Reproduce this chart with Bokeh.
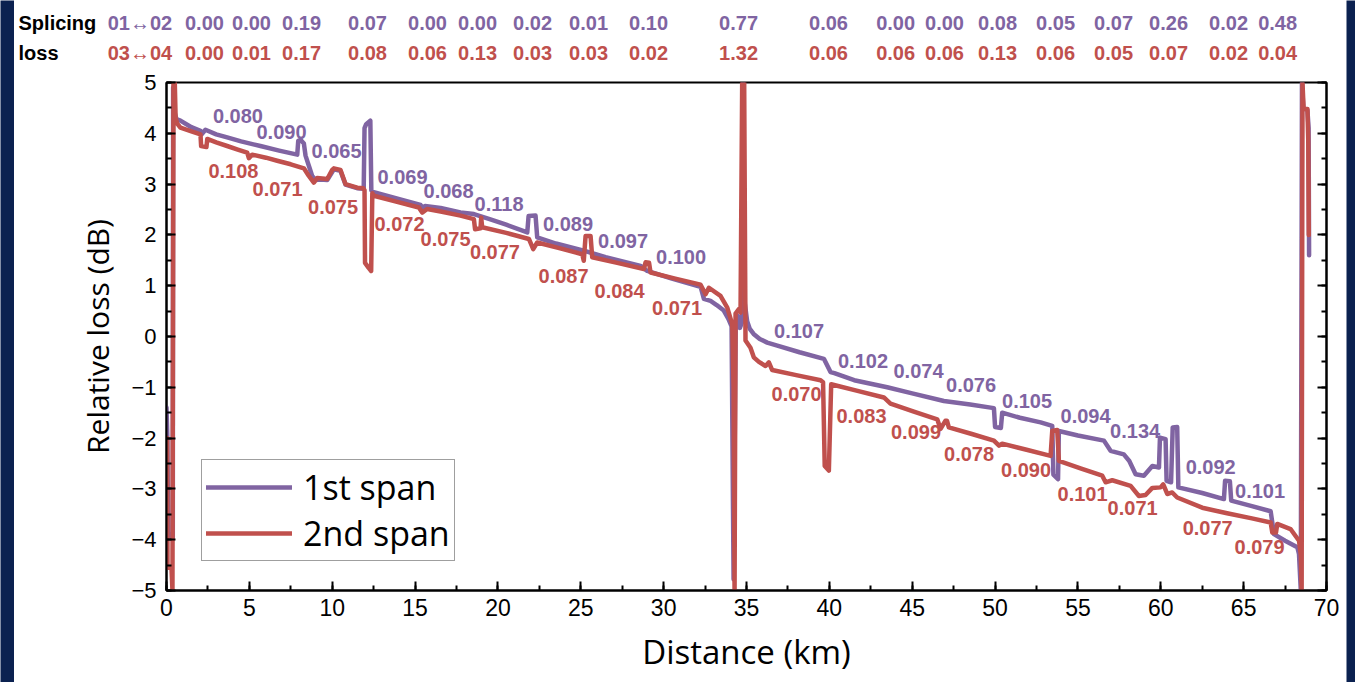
from bokeh.plotting import figure
from bokeh.layouts import column, row
from bokeh.models import (LinearAxis, SingleIntervalTicker, Legend, LegendItem,
                          Range1d, CustomJSTickFormatter)
from bokeh.core.properties import value
from bokeh.embed import file_html
from bokeh.resources import INLINE

# ---------------- data ----------------
span1_km = [0.0, 0.05, 0.1, 0.3, 0.38, 0.4, 0.5, 0.6, 0.84, 1.5, 2.05, 2.12, 2.35, 3.0, 3.66,
            4.5, 5.67, 6.8, 7.89, 7.95, 8.1, 8.29, 8.39, 8.6, 8.79, 9.0, 9.3, 9.7, 10.1, 10.5,
            10.8, 11.5, 11.9, 11.95, 12.05, 12.3, 12.36, 12.51, 14.0, 15.33, 15.45, 15.6, 16.54,
            17.74, 18.55, 19.5, 20.5, 21.77, 21.85, 22.27, 22.37, 23.5, 25.18, 26.5, 28.61, 29.01,
            30.5, 32.23, 32.43, 32.83, 33.2, 33.63, 33.9, 34.1, 34.22, 34.35, 34.5, 34.6, 34.75,
            34.79, 34.83, 34.9, 35.04, 35.2, 35.43, 35.8, 36.25, 36.86, 38.2, 39.67, 40.07, 40.3,
            41.5, 43.49, 45.0, 46.91, 48.5, 49.93, 50.0, 50.35, 50.43, 51.5, 52.75, 53.45, 53.52,
            53.8, 53.85, 55.0, 56.57, 56.97, 57.77, 58.1, 58.48, 58.98, 59.49, 59.89, 59.95, 60.29,
            60.35, 60.62, 60.72, 60.99, 61.06, 62.5, 63.81, 63.88, 64.17, 64.25, 65.5, 66.63,
            66.83, 67.5, 68.24, 68.34, 68.45, 68.52, 68.6, 68.85, 68.92, 68.95]
span1_db = [-1.4, -2.0, -3.85, -3.95, -3.95, 4.9, 4.4, 4.28, 4.25, 4.12, 4.05, 3.98, 4.07, 3.98, 3.92,
            3.84, 3.75, 3.66, 3.58, 3.85, 3.87, 3.80, 3.56, 3.35, 3.16, 3.08, 3.09, 3.08, 3.29, 3.26,
            2.99, 2.92, 2.91, 4.10, 4.18, 4.25, 2.88, 2.84, 2.71, 2.59, 2.53, 2.57, 2.53,
            2.44, 2.41, 2.31, 2.20, 2.05, 2.37, 2.38, 1.95, 1.83, 1.69, 1.56, 1.39, 1.29,
            1.14, 0.98, 0.74, 0.70, 0.62, 0.51, 0.35, 0.20, -4.78, 0.30, 0.40, 0.17, 0.3,
            5.0, 1.2, 0.65, 0.30, 0.15, 0.05, -0.05, -0.12, -0.18, -0.31, -0.44, -0.70, -0.72,
            -0.86, -1.00, -1.12, -1.27, -1.34, -1.41, -1.78, -1.80, -1.50, -1.60, -1.69, -1.76, -2.72,
            -2.81, -1.86, -1.95, -2.05, -2.25, -2.32, -2.45, -2.71, -2.74, -2.55, -2.58, -1.99, -2.02,
            -2.84, -2.87, -1.79, -1.78, -2.97, -3.08, -3.20, -2.84, -2.85, -3.23, -3.34, -3.44,
            -3.89, -4.02, -4.15, -4.28, -5.0, 5.0, 4.5, 4.45, 4.1, 1.6]

span2_km = [0.04, 0.06, 0.3, 0.36, 0.42, 0.5, 0.55, 0.65, 0.84, 1.5, 2.05, 2.09, 2.41, 2.46, 3.0,
            3.66, 4.3, 4.87, 4.97, 5.17, 6.0, 6.68, 7.5, 8.29, 8.59, 8.89, 9.09, 9.7, 10.0, 10.1,
            10.5, 10.8, 11.51, 11.87, 11.95, 11.98, 12.2, 12.35, 12.42, 12.51, 13.8, 15.23, 15.43,
            15.73, 16.54, 17.74, 18.55, 18.62, 18.95, 18.99, 19.05, 20.5, 21.87, 22.13, 22.37,
            23.7, 25.09, 25.18, 25.29, 25.59, 25.69, 27.2, 28.81, 28.91, 29.12, 29.21, 30.7,
            32.23, 32.53, 32.73, 33.43, 33.84, 34.14, 34.22, 34.28, 34.34, 34.54, 34.64, 34.74,
            34.86, 34.94, 35.24, 35.44, 35.75, 36.15, 36.35, 36.55, 38.0, 39.47, 39.62, 39.72,
            39.97, 40.11, 41.7, 43.29, 43.69, 45.1, 46.51, 46.71, 47.0, 47.1, 47.21, 48.6, 49.93,
            50.24, 50.43, 51.9, 53.35, 53.45, 53.75, 53.85, 55.2, 56.47, 56.67, 57.07, 58.18,
            58.68, 59.08, 59.49, 59.99, 60.15, 60.39, 60.69, 60.99, 62.5, 64.0, 65.5, 66.63,
            66.73, 66.95, 67.03, 67.83, 68.34, 68.45, 68.5, 68.55, 68.62, 68.85, 68.9, 68.93]
span2_db = [-2.0, -4.55, -4.55, -5.0, 5.0, 5.0, 4.3, 4.19, 4.11, 4.04, 3.98, 3.75, 3.73, 3.89, 3.82,
            3.75, 3.68, 3.62, 3.51, 3.58, 3.52, 3.46, 3.39, 3.31, 3.16, 3.03, 3.12, 3.10, 3.28, 3.31,
            3.28, 3.00, 2.93, 2.92, 2.88, 1.45, 1.35, 1.29, 2.82, 2.77, 2.66, 2.54, 2.44,
            2.51, 2.46, 2.38, 2.31, 2.11, 2.13, 2.34, 2.15, 2.04, 1.92, 1.72, 1.85,
            1.74, 1.62, 1.49, 1.98, 1.98, 1.56, 1.45, 1.33, 1.46, 1.45, 1.26, 1.14,
            1.02, 0.83, 0.96, 0.80, 0.57, 0.24, -1.0, -5.0, 0.45, 0.54, 0.47, 5.0,
            5.0, -0.08, -0.22, -0.41, -0.50, -0.58, -0.51, -0.66, -0.76, -0.86, -0.90, -2.55,
            -2.64, -0.94, -1.07, -1.20, -1.32, -1.48, -1.63, -1.82, -1.66, -1.66, -1.79, -1.92, -2.05,
            -2.15, -2.11, -2.23, -2.35, -1.86, -1.84, -2.45, -2.60, -2.74, -2.87, -2.83, -2.94,
            -3.14, -3.12, -2.98, -2.97, -2.91, -3.10, -3.07, -3.17, -3.37, -3.48, -3.58, -3.66,
            -3.86, -3.86, -3.69, -3.79, -4.02, -4.30, -5.0, 5.0, 4.48, 4.48, 3.85, 2.0]

s1_lab_km = [4.31, 6.94, 10.26, 14.24, 17.02, 20.07, 24.23, 27.55, 31.05, 38.17, 42.03, 45.38,
             48.55, 51.93, 55.46, 58.45, 63.01, 65.99]
s1_lab_db = [4.34, 4.02, 3.66, 3.13, 2.87, 2.60, 2.21, 1.88, 1.56, 0.10, -0.48, -0.68,
             -0.96, -1.26, -1.56, -1.86, -2.57, -3.04]
s1_lab_txt = ["0.080", "0.090", "0.065", "0.069", "0.068", "0.118", "0.089", "0.097", "0.100",
              "0.107", "0.102", "0.074", "0.076", "0.105", "0.094", "0.134", "0.092", "0.101"]

s2_lab_km = [4.04, 6.70, 10.05, 14.06, 16.84, 19.82, 23.96, 27.34, 30.81, 38.02, 41.94, 45.23,
             48.43, 51.87, 55.28, 58.30, 62.83, 65.96]
s2_lab_db = [3.25, 2.91, 2.55, 2.21, 1.91, 1.66, 1.19, 0.90, 0.57, -1.14, -1.56, -1.88,
             -2.32, -2.63, -3.10, -3.37, -3.76, -4.14]
s2_lab_txt = ["0.108", "0.071", "0.075", "0.072", "0.075", "0.077", "0.087", "0.084", "0.071",
              "0.070", "0.083", "0.099", "0.078", "0.090", "0.101", "0.071", "0.077", "0.079"]

hdr_km = [2.29, 5.13, 8.15, 12.13, 15.75, 18.77, 22.09, 25.47, 29.09, 34.52, 39.95, 44.00,
          46.95, 50.15, 53.65, 57.15, 60.47, 64.09, 67.05]
hdr_row1 = ["0.00", "0.00", "0.19", "0.07", "0.00", "0.00", "0.02", "0.01", "0.10", "0.77",
            "0.06", "0.00", "0.00", "0.08", "0.05", "0.07", "0.26", "0.02", "0.48"]
hdr_row2 = ["0.00", "0.01", "0.17", "0.08", "0.06", "0.13", "0.03", "0.03", "0.02", "1.32",
            "0.06", "0.06", "0.06", "0.13", "0.06", "0.05", "0.07", "0.02", "0.04"]
hdr_pair_km = -1.60
hdr_pair1 = "01\u219402"
hdr_pair2 = "03\u219404"
hdr_title_km = -8.93
hdr_title1 = "Splicing"
hdr_title2 = "loss"

# ---------------- layout / styling ----------------
PURPLE = "#8064A2"
RED = "#C0504D"
NAVY = "#0B2150"
SANS = "Liberation Sans"
UI = "Open Sans"

PAGE_H = 682
STRIP_L, STRIP_R = 14, 9
W = 1355 - STRIP_L - STRIP_R
BL, BR = 152, 20
FRAME_W = W - BL - BR
HDR_H = 70
TOP_GAP = 12
X0, X1 = 0, 70
PX_PER_KM = FRAME_W / (X1 - X0)
PX_PER_DB = 50.8


def strip(width):
    s = figure(width=width, height=PAGE_H, output_backend="svg", toolbar_location=None,
               x_axis_type=None, y_axis_type=None,
               min_border_left=0, min_border_right=0, min_border_top=0, min_border_bottom=0)
    s.frame_align = False
    s.outline_line_color = None
    s.background_fill_color = NAVY
    s.border_fill_color = NAVY
    s.xgrid.visible = False
    s.ygrid.visible = False
    return s


# header strip (splicing-loss table) sharing the km scale of the main plot
hdr = figure(width=W, height=HDR_H, output_backend="svg", toolbar_location=None,
             x_range=Range1d(X0 - BL / PX_PER_KM, X1 + BR / PX_PER_KM),
             y_range=Range1d(5 + TOP_GAP / PX_PER_DB, 5 + (TOP_GAP + HDR_H) / PX_PER_DB),
             x_axis_type=None, y_axis_type=None,
             min_border_left=0, min_border_right=0, min_border_top=0, min_border_bottom=0)
hdr.frame_align = False
hdr.outline_line_color = None
hdr.xgrid.visible = False
hdr.ygrid.visible = False
ROW1_Y, ROW2_Y = 6.18, 5.59
hdr_font = dict(text_font=value(SANS), text_font_style="bold", text_font_size="20px",
                text_baseline="middle")
hdr.text(x=hdr_km, y=[ROW1_Y] * len(hdr_km), text=hdr_row1, text_color=PURPLE,
         text_align="center", **hdr_font)
hdr.text(x=hdr_km, y=[ROW2_Y] * len(hdr_km), text=hdr_row2, text_color=RED,
         text_align="center", **hdr_font)
hdr.text(x=[hdr_pair_km], y=[ROW1_Y], text=[hdr_pair1], text_color=PURPLE,
         text_align="center", **hdr_font)
hdr.text(x=[hdr_pair_km], y=[ROW2_Y], text=[hdr_pair2], text_color=RED,
         text_align="center", **hdr_font)
hdr.text(x=[hdr_title_km, hdr_title_km], y=[ROW1_Y, ROW2_Y], text=[hdr_title1, hdr_title2],
         text_color="black", text_align="left", **hdr_font)

p = figure(width=W, height=TOP_GAP + 508 + 90, x_range=Range1d(X0, X1), y_range=Range1d(-5, 5),
           output_backend="svg", toolbar_location=None,
           min_border_left=BL, min_border_right=BR, min_border_top=TOP_GAP, min_border_bottom=90)
p.frame_align = False
p.xgrid.visible = False
p.ygrid.visible = False
p.outline_line_color = "black"
p.outline_line_width = 2

p.xaxis.ticker = SingleIntervalTicker(interval=5, num_minor_ticks=2)
p.yaxis.ticker = SingleIntervalTicker(interval=1, num_minor_ticks=2)
for ax in (p.xaxis, p.yaxis):
    ax.axis_line_width = 2
    ax.axis_line_color = "black"
    ax.major_tick_in = 9
    ax.major_tick_out = 0
    ax.minor_tick_in = 5
    ax.minor_tick_out = 0
    ax.major_tick_line_width = 2
    ax.minor_tick_line_width = 2
    ax.major_tick_line_color = "black"
    ax.minor_tick_line_color = "black"
    ax.major_label_text_font = SANS
    ax.major_label_text_color = "black"
    ax.axis_label_text_font = UI
    ax.axis_label_text_font_style = "normal"
    ax.axis_label_text_color = "black"
p.xaxis.major_label_text_font_size = "23px"
p.yaxis.major_label_text_font_size = "22px"
p.xaxis.major_label_standoff = 8
p.yaxis.major_label_standoff = 10
p.xaxis.axis_label = "Distance (km)"
p.yaxis.axis_label = "Relative loss (dB)"
p.xaxis.axis_label_text_font_size = "33px"
p.yaxis.axis_label_text_font_size = "30px"
p.xaxis.axis_label_standoff = 10
p.yaxis.axis_label_standoff = 10

rax = LinearAxis(ticker=SingleIntervalTicker(interval=1, num_minor_ticks=2),
                 formatter=CustomJSTickFormatter(code="return ''"),
                 major_label_standoff=0,
                 axis_line_width=2, major_tick_in=9, major_tick_out=0,
                 minor_tick_in=5, minor_tick_out=0,
                 major_tick_line_width=2, minor_tick_line_width=2)
p.add_layout(rax, "right")

r1 = p.line(span1_km, span1_db, line_color=PURPLE, line_width=4.5, line_join="round",
            line_cap="round")
r2 = p.line(span2_km, span2_db, line_color=RED, line_width=4.5, line_join="round",
            line_cap="round")

lab_font = dict(text_font=value(SANS), text_font_style="bold", text_font_size="20px",
                text_align="center", text_baseline="middle")
p.text(x=s1_lab_km, y=s1_lab_db, text=s1_lab_txt, text_color=PURPLE, **lab_font)
p.text(x=s2_lab_km, y=s2_lab_db, text=s2_lab_txt, text_color=RED, **lab_font)

legend = Legend(items=[LegendItem(label="1st span", renderers=[r1]),
                       LegendItem(label="2nd span", renderers=[r2])],
                location=(35, 29), label_text_font=UI, label_text_font_size="34px",
                label_text_color="black",
                glyph_width=86, glyph_height=40, label_height=40, label_standoff=11,
                padding=4, spacing=0, margin=0,
                border_line_color="#404040", border_line_width=1.5,
                background_fill_color="white", background_fill_alpha=1.0)
p.add_layout(legend)

layout = row(strip(STRIP_L), column(hdr, p, spacing=0), strip(STRIP_R), spacing=0)
open("out.html", "w").write(file_html(layout, INLINE))
